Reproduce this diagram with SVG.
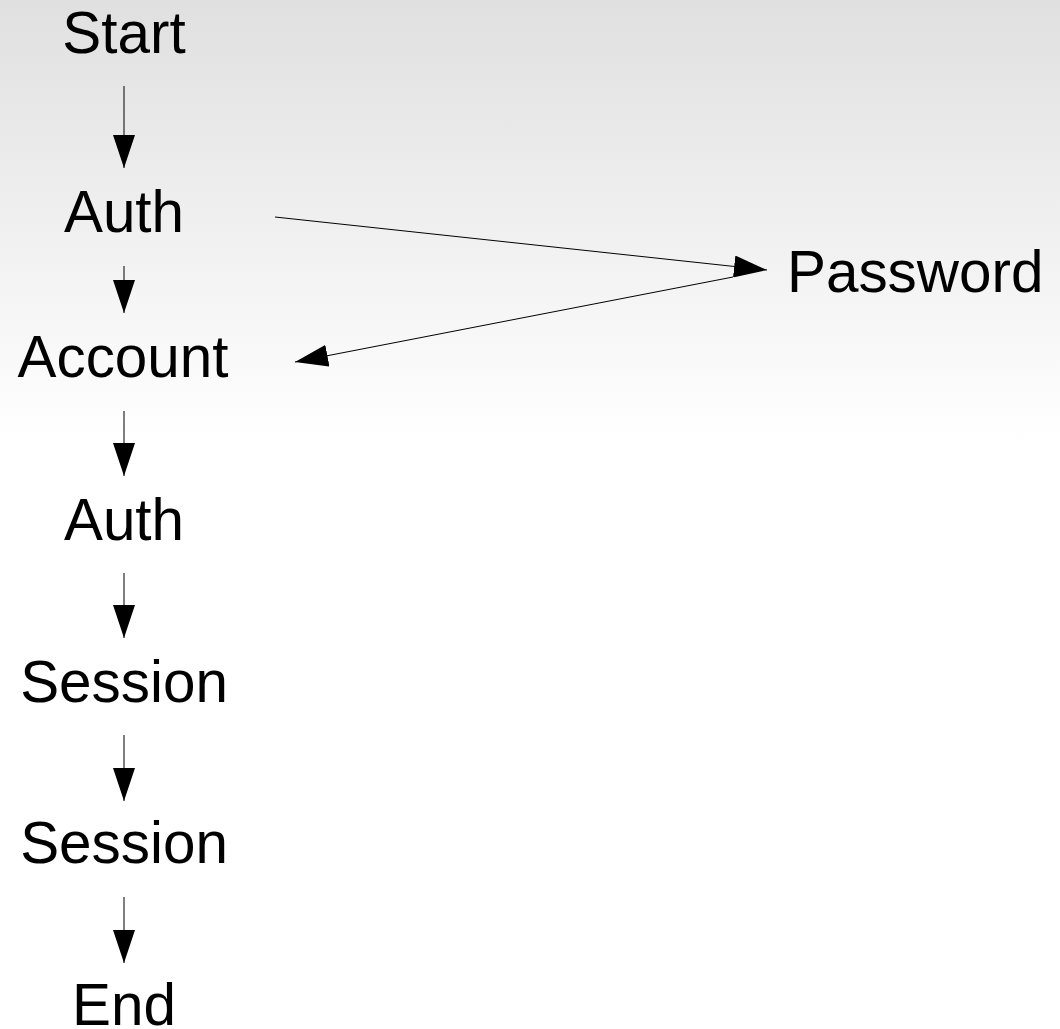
<svg xmlns="http://www.w3.org/2000/svg" width="1060" height="1029" viewBox="0 0 1060 1029">
<defs>
<linearGradient id="bg" x1="0" y1="0" x2="0" y2="1029" gradientUnits="userSpaceOnUse">
<stop offset="0" stop-color="#e0e0e0"/>
<stop offset="0.43" stop-color="#ffffff"/>
<stop offset="1" stop-color="#ffffff"/>
</linearGradient>
<marker id="ah" markerUnits="userSpaceOnUse" markerWidth="34" markerHeight="22" refX="33" refY="11" orient="auto" viewBox="0 0 34 22">
<path d="M0,0 L33,11 L0,22 z" fill="#000"/>
</marker>
<style>
.lbl{font-family:"Liberation Sans",Arial,sans-serif;font-size:58.4px;fill:#000;}
.c{text-anchor:middle;}
.e{stroke:#000;stroke-width:1;fill:none;marker-end:url(#ah);}
</style>
</defs>
<rect x="0" y="0" width="1060" height="1029" fill="url(#bg)"/>
<g id="connectors">
<line class="e" x1="124" y1="86" x2="124" y2="168"/>
<line class="e" x1="124" y1="266" x2="124" y2="313"/>
<line class="e" x1="124" y1="411" x2="124" y2="476"/>
<line class="e" x1="124" y1="573" x2="124" y2="638"/>
<line class="e" x1="124" y1="735" x2="124" y2="801"/>
<line class="e" x1="124" y1="897" x2="124" y2="963"/>
<line class="e" x1="275" y1="217" x2="767" y2="270"/>
<line class="e" x1="733" y1="277" x2="295" y2="362"/>
</g>
<g id="n-start"><text class="lbl c" x="124" y="53">Start</text></g>
<g id="n-auth1"><text class="lbl c" x="124" y="232">Auth</text></g>
<g id="n-password"><text class="lbl" x="787" y="292">Password</text></g>
<g id="n-account"><text class="lbl c" x="123" y="377">Account</text></g>
<g id="n-auth2"><text class="lbl c" x="124" y="540">Auth</text></g>
<g id="n-session1"><text class="lbl c" x="124" y="702">Session</text></g>
<g id="n-session2"><text class="lbl c" x="124" y="863">Session</text></g>
<g id="n-end"><text class="lbl c" x="124" y="1025">End</text></g>
</svg>
